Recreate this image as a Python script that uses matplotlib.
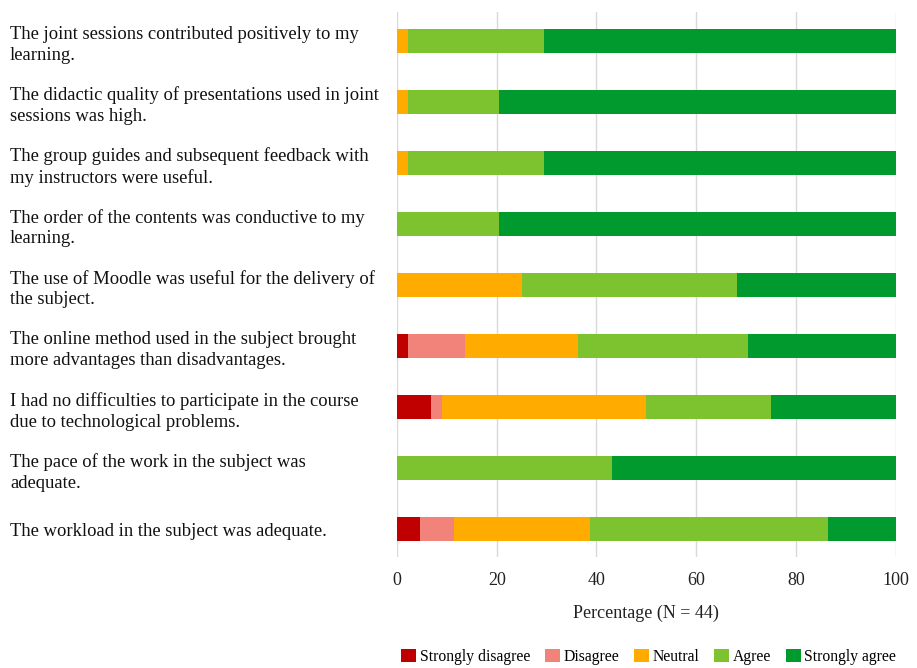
import matplotlib
matplotlib.use("Agg")
import matplotlib.pyplot as plt
import numpy as np

plt.rcParams['font.family'] = ['Liberation Serif', 'DejaVu Serif']

statements = [
    "The joint sessions contributed positively to my\nlearning.",
    "The didactic quality of presentations used in joint\nsessions was high.",
    "The group guides and subsequent feedback with\nmy instructors were useful.",
    "The order of the contents was conductive to my\nlearning.",
    "The use of Moodle was useful for the delivery of\nthe subject.",
    "The online method used in the subject brought\nmore advantages than disadvantages.",
    "I had no difficulties to participate in the course\ndue to technological problems.",
    "The pace of the work in the subject was\nadequate.",
    "The workload in the subject was adequate.",
]
levels = ["Strongly disagree", "Disagree", "Neutral", "Agree", "Strongly agree"]
colors = ["#C00000", "#F2837B", "#FFAB00", "#7DC32F", "#009A2E"]

strongly_disagree = [0, 0, 0, 0, 0, 2.27, 6.82, 0, 4.55]
disagree          = [0, 0, 0, 0, 0, 11.36, 2.27, 0, 6.82]
neutral           = [2.27, 2.27, 2.27, 0, 25.00, 22.73, 40.91, 0, 27.27]
agree             = [27.27, 18.18, 27.27, 20.45, 43.18, 34.09, 25.00, 43.18, 47.73]
strongly_agree    = [70.45, 79.55, 70.45, 79.55, 31.82, 29.55, 25.00, 56.82, 13.64]

series = [strongly_disagree, disagree, neutral, agree, strongly_agree]

fig = plt.figure(figsize=(9.17, 6.68), dpi=100)
ax = fig.add_axes([0.4329, 0.1666, 0.9768 - 0.4329, 0.9825 - 0.1666])

y = np.arange(len(statements))
left = np.zeros(len(statements))
for vals, lab, col in zip(series, levels, colors):
    vals = np.array(vals)
    ax.barh(y, vals, left=left, height=0.4, color=col, label=lab, zorder=3)
    left += vals

ax.set_xlim(0, 100)
ax.set_ylim(8.45, -0.48)
ax.set_xticks([0, 20, 40, 60, 80, 100])
ax.set_yticks(y)
ax.set_yticklabels(statements, ha='left', fontsize=13.4, color='#111111',
                   linespacing=1.3)
ax.tick_params(axis='y', length=0, pad=(397 - 10) * 0.72)
ax.tick_params(axis='x', length=0, labelsize=13, pad=11, colors='#222222')
ax.grid(axis='x', color='#D9D9D9', linewidth=1, zorder=0)
for s in ax.spines.values():
    s.set_visible(False)
ax.set_xlabel("Percentage (N = 44)", fontsize=13, color='#222222', labelpad=11)

ax.legend(loc='upper center', bbox_to_anchor=(0.505, -0.143), ncol=5, frameon=False,
          fontsize=11.3, handlelength=0.95, handleheight=0.95, handletextpad=0.25,
          columnspacing=0.92)

fig.savefig("out.png", dpi=100)
